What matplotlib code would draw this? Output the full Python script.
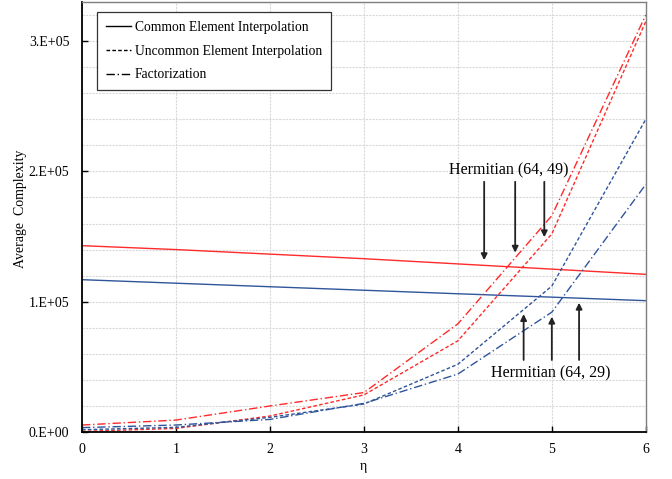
import numpy as np
import matplotlib
matplotlib.use("Agg")
import matplotlib.pyplot as plt
from matplotlib.lines import Line2D

plt.rcParams["font.family"] = ["Liberation Serif", "DejaVu Serif"]
plt.rcParams["mathtext.fontset"] = "stix"

eta = [0, 1, 2, 3, 4, 5, 6]

# Hermitian (64, 49) -> red, Hermitian (64, 29) -> blue
common_49 = [1.43e5, 1.40e5, 1.365e5, 1.33e5, 1.29e5, 1.25e5, 1.21e5]
uncommon_49 = [0.05e4, 0.28e4, 1.23e4, 2.85e4, 0.70e5, 1.52e5, 3.15e5]
factor_49 = [0.54e4, 0.92e4, 2.0e4, 3.03e4, 0.83e5, 1.66e5, 3.20e5]

common_29 = [1.169e5, 1.142e5, 1.115e5, 1.088e5, 1.061e5, 1.035e5, 1.008e5]
uncommon_29 = [0.18e4, 0.36e4, 1.13e4, 2.15e4, 0.52e5, 1.12e5, 2.40e5]
factor_29 = [0.34e4, 0.54e4, 0.97e4, 2.2e4, 0.445e5, 0.92e5, 1.90e5]

RED = "#FF2A2A"
BLUE = "#2F559A"
DASHED = (0, (2.6, 1.6))
DASHDOT = (0, (6, 2, 1, 2))

fig = plt.figure(figsize=(6.72, 4.79), dpi=100)
ax = fig.add_axes([0.122, 0.098, 0.839, 0.898])

for ys, color in [(common_49, RED), (common_29, BLUE)]:
    ax.plot(eta, ys, color=color, lw=1.0, linestyle="-")
for ys, color in [(uncommon_49, RED), (uncommon_29, BLUE)]:
    ax.plot(eta, ys, color=color, lw=1.0, linestyle=DASHED)
for ys, color in [(factor_49, RED), (factor_29, BLUE)]:
    ax.plot(eta, ys, color=color, lw=1.0, linestyle=DASHDOT)

ax.set_xlim(0, 6)
ax.set_ylim(0, 3.3e5)
ax.set_xticks(range(7))
ax.set_yticks([0, 1e5, 2e5, 3e5])
ax.set_yticks(np.arange(0, 3.3e5, 2e4), minor=True)
ax.set_yticklabels(["0.E+00", "1.E+05", "2.E+05", "3.E+05"])
ax.tick_params(axis="both", which="major", direction="in", length=4, width=1,
               labelsize=10)
ax.tick_params(axis="y", which="minor", length=0)
ax.tick_params(axis="x", pad=8)
ax.tick_params(axis="y", pad=9)

ax.grid(True, which="both", color="#d9d9d9", linestyle=(0, (2, 1)), lw=0.8)
ax.set_axisbelow(True)

for side in ["left", "bottom"]:
    ax.spines[side].set_color("black")
    ax.spines[side].set_linewidth(1.3)
for side in ["top", "right"]:
    ax.spines[side].set_color("#7f7f7f")
    ax.spines[side].set_linewidth(1.0)

ax.set_xlabel("η", fontsize=10, labelpad=3)
ax.set_ylabel("Average  Complexity", fontsize=10)
ax.yaxis.set_label_coords(-0.098, 0.52)

handles = [
    Line2D([], [], color="black", lw=1.0, linestyle="-"),
    Line2D([], [], color="black", lw=1.0, linestyle=DASHED),
    Line2D([], [], color="black", lw=1.0, linestyle=DASHDOT),
]
labels = ["Common Element Interpolation", "Uncommon Element Interpolation", "Factorization"]
leg = ax.legend(handles, labels, loc="upper left", bbox_to_anchor=(0.0266, 0.977),
                borderaxespad=0, fontsize=9.8, fancybox=False, framealpha=1,
                edgecolor="#333333", handlelength=1.85, handletextpad=0.3,
                labelspacing=0.8, borderpad=0.65)
leg.get_frame().set_linewidth(0.9)

arrow = dict(arrowstyle="-|>", color="#222222", lw=1.3, mutation_scale=9,
             shrinkA=0, shrinkB=0)

# arrows to the (64, 49) curves, pointing down
top_targets = [(4.28, common_49), (4.61, factor_49), (4.92, uncommon_49)]
for x, ys in top_targets:
    tip = np.interp(x, eta, ys) + 0.04e5
    ax.annotate("", xy=(x, tip), xytext=(x, 1.92e5), arrowprops=arrow)
ax.text(4.54, 2.01e5, "Hermitian (64, 49)", fontsize=11.5, ha="center", va="center")

# arrows to the (64, 29) curves, pointing up
bottom_targets = [(4.70, uncommon_29), (5.0, factor_29), (5.29, common_29)]
for x, ys in bottom_targets:
    tip = np.interp(x, eta, ys) - 0.035e5
    ax.annotate("", xy=(x, tip), xytext=(x, 0.553e5), arrowprops=arrow)
ax.text(4.99, 0.45e5, "Hermitian (64, 29)", fontsize=11.5, ha="center", va="center")

fig.savefig("out.png", dpi=100)
